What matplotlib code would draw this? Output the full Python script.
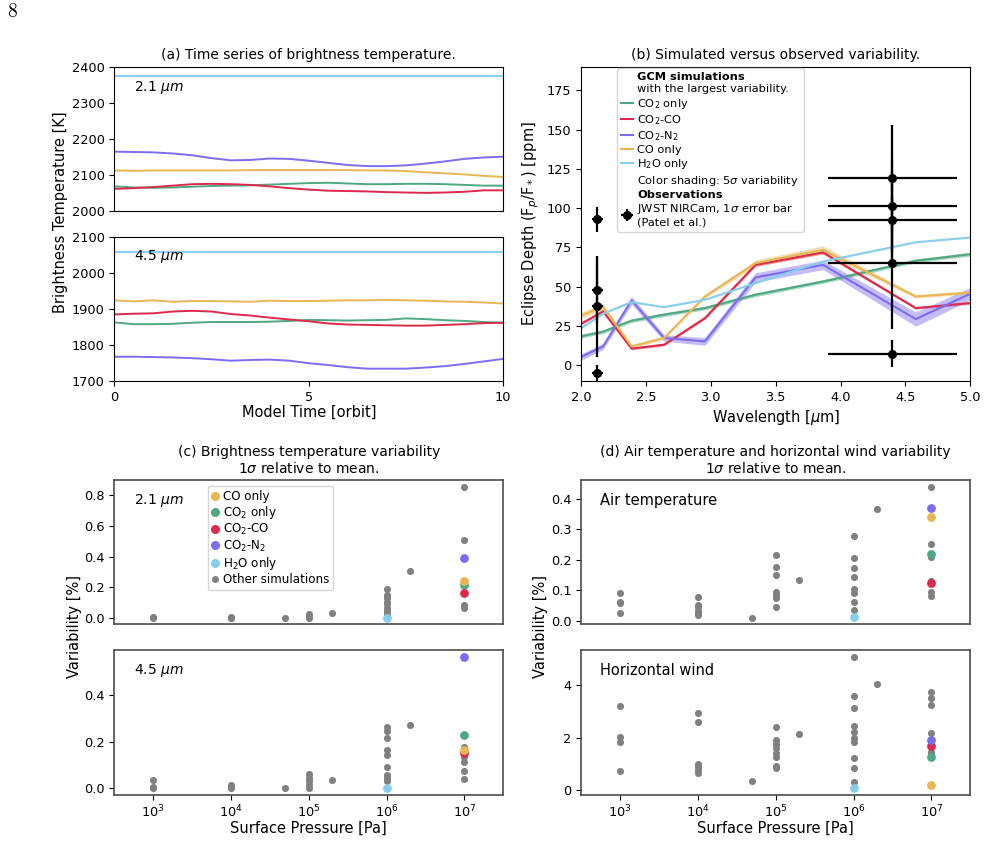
#!/usr/bin/env python3
"""Variability figure: brightness temperature time series, eclipse spectra and variability vs pressure."""

import matplotlib

matplotlib.use("Agg")
import matplotlib.pyplot as plt
from matplotlib.lines import Line2D
from matplotlib.ticker import NullLocator
import numpy as np

W, H = 986, 861

# colours of the named simulations
C_CO = "#e8b655"
C_CO2 = "#4fa882"
C_CO2CO = "#dc2a4c"
C_CO2N2 = "#7b6cf0"
C_H2O = "#87ceeb"
C_OTHER = "#808080"

# ---------------- (a) brightness temperature time series ----------------
model_time = [0, 0.5, 1, 1.5, 2, 2.5, 3, 3.5, 4, 4.5, 5, 5.5, 6, 6.5, 7, 7.5, 8, 8.5, 9, 9.5, 10]

bt21_h2o = [2375, 2375, 2375, 2375, 2375, 2375, 2375, 2375, 2375, 2375, 2375,
            2375, 2375, 2375, 2375, 2375, 2375, 2375, 2375, 2375, 2375]
bt21_co2n2 = [2165, 2164, 2163, 2160, 2155, 2147, 2141, 2142, 2146, 2145, 2140,
              2134, 2128, 2125, 2125, 2127, 2132, 2138, 2145, 2149, 2151]
bt21_co = [2113, 2112, 2113, 2113, 2113, 2113, 2113, 2114, 2114, 2114, 2114,
           2114, 2114, 2113, 2113, 2111, 2108, 2105, 2102, 2098, 2095]
bt21_co2 = [2069, 2066, 2065, 2066, 2068, 2070, 2071, 2072, 2074, 2076, 2078,
            2079, 2077, 2075, 2075, 2076, 2076, 2075, 2073, 2071, 2071]
bt21_co2co = [2062, 2064, 2067, 2071, 2075, 2076, 2075, 2073, 2069, 2064, 2060,
              2057, 2056, 2055, 2053, 2052, 2051, 2052, 2054, 2058, 2058]

bt45_h2o = [2058, 2058, 2058, 2058, 2058, 2058, 2058, 2058, 2058, 2058, 2058,
            2058, 2058, 2058, 2058, 2058, 2058, 2058, 2058, 2058, 2058]
bt45_co = [1924, 1921, 1924, 1920, 1922, 1922, 1921, 1920, 1923, 1922, 1922,
           1923, 1924, 1924, 1925, 1924, 1923, 1921, 1920, 1918, 1915]
bt45_co2co = [1885, 1887, 1888, 1893, 1895, 1893, 1886, 1882, 1876, 1871, 1866,
              1860, 1857, 1856, 1855, 1854, 1854, 1856, 1858, 1861, 1862]
bt45_co2 = [1863, 1858, 1858, 1859, 1862, 1864, 1864, 1864, 1865, 1867, 1870,
            1869, 1868, 1869, 1870, 1874, 1872, 1869, 1867, 1864, 1862]
bt45_co2n2 = [1768, 1768, 1767, 1766, 1764, 1761, 1757, 1759, 1760, 1757, 1750,
              1745, 1739, 1735, 1735, 1735, 1738, 1742, 1748, 1755, 1762]

# ---------------- (b) eclipse depth spectra ----------------
wavelength = [2.0, 2.17, 2.39, 2.64, 2.955, 3.345, 3.865, 4.58, 5.0]
depth_co2 = [18.4, 21.4, 28.4, 32.2, 36.4, 44.9, 53.3, 66.5, 70.7]
depth_co2co = [26.4, 34.3, 10.6, 13.1, 30.0, 63.9, 71.8, 36.4, 39.6]
depth_co2n2 = [5.3, 12.0, 41.3, 17.4, 15.2, 55.9, 63.9, 29.4, 45.5]
depth_co = [31.7, 37.2, 12.0, 17.4, 43.8, 65.0, 73.5, 43.8, 46.3]
depth_h2o = [23.5, 32.8, 40.2, 37.0, 41.7, 52.3, 66.0, 78.3, 81.3]
# 5 sigma half-widths of the shading
shade_co2 = [1.2, 1.2, 1.2, 1.2, 1.2, 1.2, 1.2, 1.2, 1.2]
shade_co2co = [0.8, 0.8, 0.8, 0.8, 0.8, 1.0, 1.0, 0.8, 0.8]
shade_co2n2 = [2.0, 2.0, 2.5, 2.0, 2.5, 3.0, 3.0, 4.5, 4.0]
shade_co = [2.0, 2.0, 1.0, 1.0, 1.0, 2.0, 2.5, 1.0, 1.0]
shade_h2o = [0.3, 0.3, 0.3, 0.3, 0.3, 0.3, 0.3, 0.3, 0.3]

obs_wl = [2.126, 2.126, 2.126, 2.126, 4.40, 4.40, 4.40, 4.40, 4.40]
obs_depth = [92.9, 47.6, 37.5, -4.8, 119.0, 101.4, 92.5, 65.4, 7.4]
obs_yerr = [8.0, 21.0, 32.0, 5.0, 34.0, 30.0, 30.0, 42.0, 8.5]
obs_xerr = [0.04, 0.04, 0.04, 0.04, 0.5, 0.5, 0.5, 0.5, 0.5]

# ---------------- (c), (d) variability vs surface pressure ----------------
named_labels = ["CO only", "CO$_2$ only", "CO$_2$-CO", "CO$_2$-N$_2$", "H$_2$O only"]
named_colors = [C_CO, C_CO2, C_CO2CO, C_CO2N2, C_H2O]
named_pressure = [1e7, 1e7, 1e7, 1e7, 1e6]

named_bt21 = [0.24, 0.212, 0.164, 0.393, 0.0]
named_bt45 = [0.164, 0.23, 0.15, 0.564, 0.0]
named_tair = [0.339, 0.22, 0.123, 0.369, 0.012]
named_wind = [0.2, 1.28, 1.68, 1.91, 0.08]

other_p_bt21 = [1e3, 1e3, 1e4, 1e4, 1e4, 5e4, 1e5, 1e5, 1e5, 2e5,
                1e6, 1e6, 1e6, 1e6, 1e6, 1e6, 1e6, 1e6, 1e6, 2e6,
                1e7, 1e7, 1e7, 1e7]
other_bt21 = [0.006, 0.001, 0.01, 0.004, 0.0, 0.0, 0.028, 0.015, 0.004, 0.032,
              0.186, 0.151, 0.13, 0.108, 0.091, 0.069, 0.048, 0.03, 0.015, 0.303,
              0.854, 0.51, 0.084, 0.069]

other_p_bt45 = [1e3, 1e3, 1e3, 1e4, 1e4, 1e4, 5e4, 1e5, 1e5, 1e5, 1e5, 1e5, 2e5,
                1e6, 1e6, 1e6, 1e6, 1e6, 1e6, 1e6, 1e6, 1e6, 2e6,
                1e7, 1e7, 1e7, 1e7, 1e7]
other_bt45 = [0.036, 0.007, 0.0, 0.014, 0.005, 0.0, 0.003, 0.061, 0.043, 0.029, 0.014, 0.003, 0.036,
              0.264, 0.247, 0.217, 0.164, 0.143, 0.093, 0.057, 0.046, 0.029, 0.271,
              0.179, 0.136, 0.114, 0.076, 0.04]

other_p_tair = [1e3, 1e3, 1e3, 1e3, 1e4, 1e4, 1e4, 1e4, 1e4, 1e4, 5e4,
                1e5, 1e5, 1e5, 1e5, 1e5, 1e5, 1e5, 2e5,
                1e6, 1e6, 1e6, 1e6, 1e6, 1e6, 1e6, 1e6, 2e6,
                1e7, 1e7, 1e7, 1e7, 1e7, 1e7]
other_tair = [0.09, 0.063, 0.058, 0.025, 0.077, 0.052, 0.044, 0.034, 0.025, 0.02, 0.009,
              0.215, 0.178, 0.149, 0.096, 0.085, 0.074, 0.047, 0.135,
              0.279, 0.206, 0.174, 0.145, 0.104, 0.09, 0.063, 0.036, 0.366,
              0.439, 0.253, 0.21, 0.131, 0.096, 0.08]

other_p_wind = [1e3, 1e3, 1e3, 1e3, 1e4, 1e4, 1e4, 1e4, 1e4, 1e4, 5e4,
                1e5, 1e5, 1e5, 1e5, 1e5, 1e5, 1e5, 1e5, 2e5,
                1e6, 1e6, 1e6, 1e6, 1e6, 1e6, 1e6, 1e6, 1e6, 1e6, 2e6,
                1e7, 1e7, 1e7, 1e7, 1e7, 1e7]
other_wind = [3.2, 2.04, 1.85, 0.73, 2.95, 2.6, 1.0, 0.9, 0.77, 0.67, 0.34,
              2.39, 1.91, 1.76, 1.6, 1.4, 1.28, 0.92, 0.84, 2.15,
              5.08, 3.6, 3.11, 2.46, 2.23, 2.0, 1.85, 1.22, 0.84, 0.3, 4.03,
              3.75, 3.49, 3.24, 2.19, 1.47, 1.34]


def px_axes(fig, left, top, right, bottom):
    """Add axes from pixel edges (origin top-left)."""
    return fig.add_axes([left / W, 1 - bottom / H, (right - left) / W, (bottom - top) / H])


def fig_text(fig, x, y, s, **kw):
    return fig.text(x / W, 1 - y / H, s, **kw)


plt.rcParams["xtick.labelsize"] = 9.3
plt.rcParams["ytick.labelsize"] = 9.3

fig = plt.figure(figsize=(W / 100, H / 100), dpi=100)
fig_text(fig, 12, 12, "8", fontsize=14, family="cmr10", ha="center", va="center")

# ---------- panel (a) ----------
ax_a1 = px_axes(fig, 114.3, 66.7, 503.3, 211.3)
ax_a2 = px_axes(fig, 114.3, 236.7, 503.3, 381.3)
for ax, series in (
    (ax_a1, [(bt21_h2o, C_H2O), (bt21_co2n2, C_CO2N2), (bt21_co, C_CO), (bt21_co2, C_CO2), (bt21_co2co, C_CO2CO)]),
    (ax_a2, [(bt45_h2o, C_H2O), (bt45_co, C_CO), (bt45_co2, C_CO2), (bt45_co2co, C_CO2CO), (bt45_co2n2, C_CO2N2)]),
):
    for vals, col in series:
        ax.plot(model_time, vals, color=col, lw=1.4)
    ax.set_xlim(0, 10)
ax_a1.set_ylim(2000, 2400)
ax_a1.set_yticks([2000, 2100, 2200, 2300, 2400])
ax_a1.tick_params(axis="x", bottom=False, labelbottom=False)
ax_a2.set_ylim(1700, 2100)
ax_a2.set_yticks([1700, 1800, 1900, 2000, 2100])
ax_a2.set_xticks([0, 5, 10])
ax_a1.text(0.05, 0.855, r"2.1 $\mu m$", transform=ax_a1.transAxes, fontsize=10, va="center")
ax_a2.text(0.05, 0.862, r"4.5 $\mu m$", transform=ax_a2.transAxes, fontsize=10, va="center")
fig_text(fig, 308.8, 55, "(a) Time series of brightness temperature.", fontsize=10, ha="center", va="center")
fig_text(fig, 308.8, 412, "Model Time [orbit]", fontsize=10.5, ha="center", va="center")
fig_text(fig, 61, 212, "Brightness Temperature [K]", fontsize=10.5, ha="center", va="center", rotation=90)

# ---------- panel (b) ----------
ax_b = px_axes(fig, 581, 66.7, 970.3, 381)
spectra = [
    ("CO$_2$ only", C_CO2, depth_co2, shade_co2),
    ("CO$_2$-CO", C_CO2CO, depth_co2co, shade_co2co),
    ("CO$_2$-N$_2$", C_CO2N2, depth_co2n2, shade_co2n2),
    ("CO only", C_CO, depth_co, shade_co),
    ("H$_2$O only", C_H2O, depth_h2o, shade_h2o),
]
line_handles = []
for label, col, depth, shade in spectra:
    d = np.asarray(depth)
    s = np.asarray(shade)
    ax_b.fill_between(wavelength, d - s, d + s, color=col, alpha=0.45, lw=0)
    (ln,) = ax_b.plot(wavelength, depth, color=col, lw=1.5, label=label)
    line_handles.append(ln)
obs = ax_b.errorbar(obs_wl, obs_depth, yerr=obs_yerr, xerr=obs_xerr, fmt="o", color="black",
                    ms=5.5, elinewidth=1.6, capsize=0, zorder=5)
ax_b.set_xlim(2.0, 5.0)
ax_b.set_ylim(-10, 190)
ax_b.set_xticks([2.0, 2.5, 3.0, 3.5, 4.0, 4.5, 5.0])
ax_b.set_yticks([0, 25, 50, 75, 100, 125, 150, 175])
ax_b.set_xlabel(r"Wavelength [$\mu$m]", fontsize=10.5, labelpad=3)
ax_b.set_ylabel(r"Eclipse Depth (F$_p$/F$_*$) [ppm]", fontsize=10.5, labelpad=4)

blank = Line2D([], [], color="none")
handles_b = [blank, blank] + line_handles + [blank, blank, obs]
labels_b = ["GCM simulations", "with the largest variability."] + [s[0] for s in spectra] + [
    r"Color shading: 5$\sigma$ variability", "Observations",
    "JWST NIRCam, 1$\\sigma$ error bar\n(Patel et al.)"]
leg_b = ax_b.legend(handles_b, labels_b, loc="upper left", bbox_to_anchor=(0.092, 0.997),
                    borderaxespad=0, fontsize=8.2, labelspacing=0.2, handlelength=1.0,
                    handletextpad=0.4, borderpad=0.4)
for i in (0, 8):
    leg_b.get_texts()[i].set_fontweight("bold")
fig_text(fig, 775.7, 55, "(b) Simulated versus observed variability.", fontsize=10, ha="center", va="center")

# ---------- panels (c) and (d) ----------
def scatter_panel(ax, other_p, other_v, named_v, ylim, yticks):
    ax.scatter(other_p, other_v, s=26, color=C_OTHER, zorder=2, lw=0)
    for idx in (1, 2, 3, 0, 4):
        ax.scatter([named_pressure[idx]], [named_v[idx]], s=40, color=named_colors[idx], zorder=3, lw=0)
    ax.set_xscale("log")
    ax.set_xlim(10 ** 2.5, 10 ** 7.5)
    ax.set_ylim(*ylim)
    ax.set_yticks(yticks)
    ax.xaxis.set_minor_locator(NullLocator())
    for sp in ax.spines.values():
        sp.set_color("0.3")
        sp.set_linewidth(1.2)


ax_c1 = px_axes(fig, 114.3, 480, 503.3, 624.3)
ax_c2 = px_axes(fig, 114.3, 650, 503.3, 795)
ax_d1 = px_axes(fig, 581, 480, 970.3, 624.3)
ax_d2 = px_axes(fig, 581, 650, 970.3, 795)

scatter_panel(ax_c1, other_p_bt21, other_bt21, named_bt21, (-0.04, 0.897), [0.0, 0.2, 0.4, 0.6, 0.8])
scatter_panel(ax_c2, other_p_bt45, other_bt45, named_bt45, (-0.029, 0.593), [0.0, 0.2, 0.4])
scatter_panel(ax_d1, other_p_tair, other_tair, named_tair, (-0.011, 0.461), [0.0, 0.1, 0.2, 0.3, 0.4])
scatter_panel(ax_d2, other_p_wind, other_wind, named_wind, (-0.18, 5.33), [0, 2, 4])

for ax in (ax_c1, ax_d1):
    ax.tick_params(axis="x", bottom=False, labelbottom=False)
for ax in (ax_c2, ax_d2):
    ax.set_xticks([1e3, 1e4, 1e5, 1e6, 1e7])
    ax.tick_params(axis="x", pad=2.5)

ax_c1.text(0.05, 0.857, r"2.1 $\mu m$", transform=ax_c1.transAxes, fontsize=10, va="center")
ax_c2.text(0.05, 0.86, r"4.5 $\mu m$", transform=ax_c2.transAxes, fontsize=10, va="center")
ax_d1.text(0.05, 0.857, "Air temperature", transform=ax_d1.transAxes, fontsize=10.5, va="center")
ax_d2.text(0.05, 0.86, "Horizontal wind", transform=ax_d2.transAxes, fontsize=10.5, va="center")

leg_handles = [Line2D([], [], marker="o", ls="none", color=c, ms=6.5, mew=0) for c in named_colors]
leg_handles.append(Line2D([], [], marker="o", ls="none", color=C_OTHER, ms=5, mew=0))
ax_c1.legend(leg_handles, named_labels + ["Other simulations"], loc="upper left",
             bbox_to_anchor=(0.24, 0.96), borderaxespad=0, fontsize=8.6, labelspacing=0.1,
             handlelength=0.6, handletextpad=0.3, borderpad=0.35)

fig_text(fig, 308.8, 460.5, "(c) Brightness temperature variability\n1$\\sigma$ relative to mean.",
         fontsize=10, ha="center", va="center", linespacing=1.15)
fig_text(fig, 775.7, 460.5, "(d) Air temperature and horizontal wind variability\n1$\\sigma$ relative to mean.",
         fontsize=10, ha="center", va="center", linespacing=1.15)
for x in (308.8, 775.7):
    fig_text(fig, x, 828, "Surface Pressure [Pa]", fontsize=10.5, ha="center", va="center")
fig_text(fig, 74, 626, "Variability [%]", fontsize=10.5, ha="center", va="center", rotation=90)
fig_text(fig, 541, 626, "Variability [%]", fontsize=10.5, ha="center", va="center", rotation=90)

fig.savefig("out.png", dpi=100)
